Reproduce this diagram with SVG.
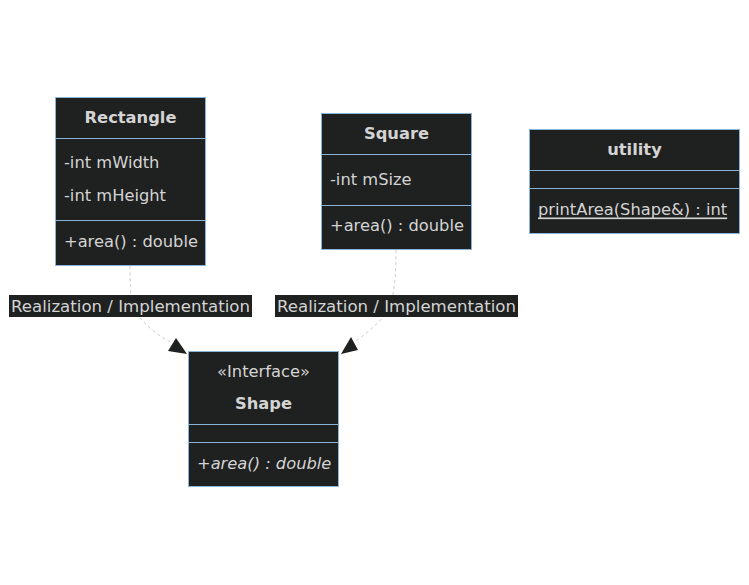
<svg xmlns="http://www.w3.org/2000/svg" width="749" height="585" viewBox="0 0 749 585">
  <style>
    .box { fill: #1f2020; stroke: #89b4da; stroke-width: 1; }
    .div { stroke: #89b4da; stroke-width: 1; }
    text { font-family: "DejaVu Sans", "Open Sans", sans-serif; font-size: 16.3px; fill: #d4d4d4; dominant-baseline: central; }
    .title { font-weight: bold; text-anchor: middle; }
    .mid { text-anchor: middle; }
    .lbl { font-size: 16.6px; }
    .edge { fill: none; stroke: #cccccc; stroke-width: 1; stroke-dasharray: 3 3; }
    .lblbg { fill: #1f2020; }
    .head { fill: #1f2020; stroke: none; }
  </style>
  <rect width="749" height="585" fill="#ffffff"/>

  <g id="connectors">
    <path class="edge" d="M130,266 C130,300 132,310 140,318 C150,330 165,340 178,346"/>
    <polygon class="head" points="176,338 168,351 187,354"/>
    <path class="edge" d="M396,250 C396,290 392,305 384,316 C372,330 360,338 350,345"/>
    <polygon class="head" points="351,337 358,350 341,354"/>
    <g id="label-rect">
      <rect class="lblbg" x="9" y="295" width="243" height="22"/>
      <text class="mid lbl" x="130.5" y="306">Realization / Implementation</text>
    </g>
    <g id="label-square">
      <rect class="lblbg" x="275" y="295" width="243" height="22"/>
      <text class="mid lbl" x="396.5" y="306">Realization / Implementation</text>
    </g>
  </g>

  <g id="Rectangle">
    <rect class="box" x="55.5" y="97.5" width="150" height="168"/>
    <line class="div" x1="55.5" y1="138.5" x2="205.5" y2="138.5"/>
    <line class="div" x1="55.5" y1="220.5" x2="205.5" y2="220.5"/>
    <text class="title" x="130.5" y="117">Rectangle</text>
    <text x="64" y="162">-int mWidth</text>
    <text x="64" y="195">-int mHeight</text>
    <text x="64" y="241">+area() : double</text>
  </g>

  <g id="Square">
    <rect class="box" x="321.5" y="113.5" width="150" height="136"/>
    <line class="div" x1="321.5" y1="154.5" x2="471.5" y2="154.5"/>
    <line class="div" x1="321.5" y1="205.5" x2="471.5" y2="205.5"/>
    <text class="title" x="396.5" y="133">Square</text>
    <text x="330" y="179">-int mSize</text>
    <text x="330" y="225">+area() : double</text>
  </g>

  <g id="utility">
    <rect class="box" x="529.5" y="129.5" width="210" height="104"/>
    <line class="div" x1="529.5" y1="170.5" x2="739.5" y2="170.5"/>
    <line class="div" x1="529.5" y1="188.5" x2="739.5" y2="188.5"/>
    <text class="title" x="634.5" y="149">utility</text>
    <text x="538" y="209" font-size="16.7px" text-decoration="underline">printArea(Shape&amp;) : int</text>
  </g>

  <g id="Shape">
    <rect class="box" x="188.5" y="351.5" width="150" height="135"/>
    <line class="div" x1="188.5" y1="424.5" x2="338.5" y2="424.5"/>
    <line class="div" x1="188.5" y1="442.5" x2="338.5" y2="442.5"/>
    <text class="mid" x="263.5" y="371">«Interface»</text>
    <text class="title" x="263.5" y="403">Shape</text>
    <text x="197" y="463" font-style="italic">+area() : double</text>
  </g>
</svg>
